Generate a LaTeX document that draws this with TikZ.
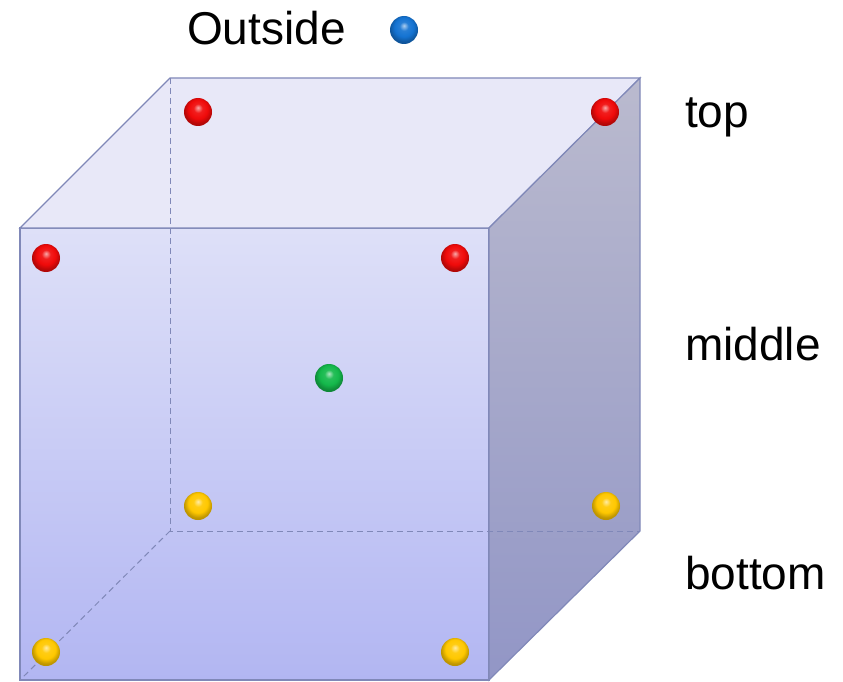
\documentclass[tikz,border=0pt]{standalone}
\usepackage{fontspec}
\setmainfont{Liberation Sans}
\definecolor{edgeline}{RGB}{128,136,184}
\definecolor{topface}{RGB}{232,232,248}
\definecolor{fronttop}{RGB}{222,224,248}
\definecolor{frontbot}{RGB}{178,182,242}
\definecolor{sidetop}{RGB}{186,186,206}
\definecolor{sidebot}{RGB}{146,150,198}
\definecolor{ballred}{RGB}{240,10,10}
\definecolor{ballyellow}{RGB}{255,200,0}
\definecolor{ballgreen}{RGB}{20,185,75}
\definecolor{ballblue}{RGB}{20,115,210}
\colorlet{ballcol}{red}
\pgfdeclareradialshading[ballcol]{glossball}{\pgfpoint{0bp}{8bp}}{%
  color(0bp)=(ballcol!35!white); color(8bp)=(ballcol!92!white);
  color(17bp)=(ballcol); color(25bp)=(ballcol!75!black);
  color(50bp)=(ballcol!60!black)}
\tikzset{
  ballnode/.style={circle, minimum size=28pt, inner sep=0pt,
    /utils/exec={\colorlet{ballcol}{#1}}, shading=glossball},
  bigtext/.style={font=\fontsize{46}{52}\selectfont, inner sep=0pt},
  hidden/.style={edgeline, line width=1pt, dash pattern=on 6pt off 4pt}
}
\begin{document}
\begin{tikzpicture}[x=1pt,y=-1pt]
        \useasboundingbox (0,0) rectangle (843,682);
        % caras del cubo
        \shade[top color=fronttop, bottom color=frontbot, draw=edgeline, line width=1.2pt] (20,228) rectangle (489,680);
        \fill[topface, draw=edgeline, line width=1.2pt] (20,228) -- (170,78) -- (640,78) -- (489,228) -- cycle;
        \shade[top color=sidetop, bottom color=sidebot, draw=edgeline, line width=1.2pt] (489,228) -- (640,78) -- (640,531) -- (489,680) -- cycle;
        % aristas ocultas
        \draw[hidden] (170,78) -- (170,531) -- (640,531);
        \draw[hidden] (170,531) -- (20,680);
        % bolas de arriba
        \node[ballnode=ballred] (topBackL) at (198,112) {};
        \node[ballnode=ballred] (topBackR) at (605,112) {};
        \node[ballnode=ballred] (topFrontL) at (46,258) {};
        \node[ballnode=ballred] (topFrontR) at (455,258) {};
        % bola del centro
        \node[ballnode=ballgreen] (center) at (329,378) {};
        % bolas de abajo
        \node[ballnode=ballyellow] (botBackL) at (198,506) {};
        \node[ballnode=ballyellow] (botBackR) at (606,506) {};
        \node[ballnode=ballyellow] (botFrontL) at (46,652) {};
        \node[ballnode=ballyellow] (botFrontR) at (455,652) {};
        % fuera del cubo
        \node[ballnode=ballblue] (outBall) at (404,30) {};
        \node[bigtext, anchor=base west] (outText) at (187,45) {Outside};
        % etiquetas
        \node[bigtext, anchor=base west] (topText) at (685,128) {top};
        \node[bigtext, anchor=base west] (midText) at (685,360) {middle};
        \node[bigtext, anchor=base west] (botText) at (685,589) {bottom};
    \end{tikzpicture}
\end{document}
